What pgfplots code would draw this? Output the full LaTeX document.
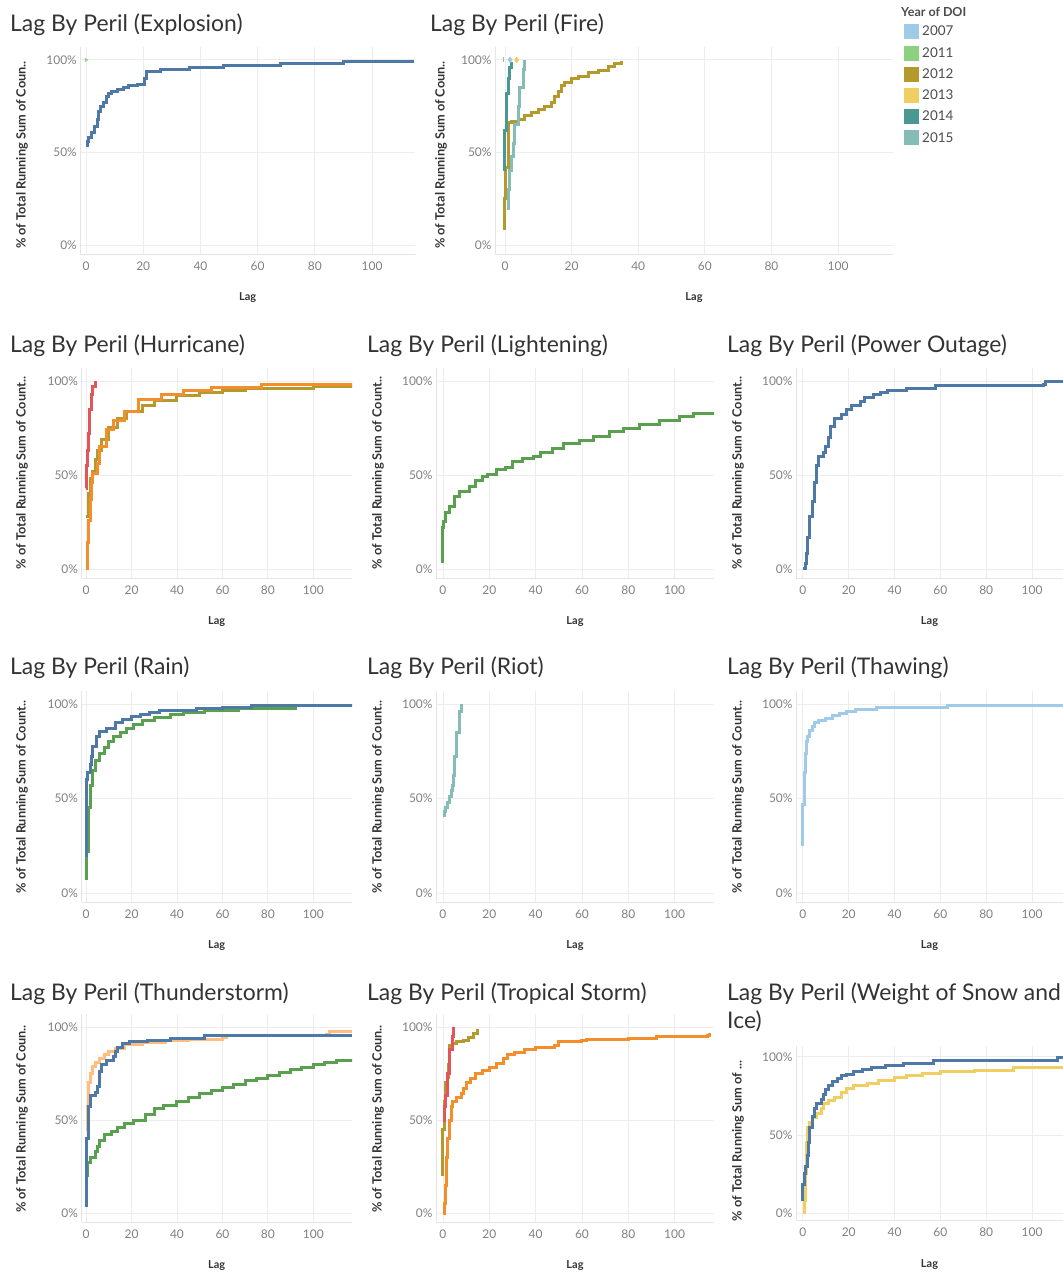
\documentclass[border=0pt]{standalone}
\usepackage{fontspec}
\setmainfont{Lato}
\usepackage{pgfplots}
\pgfplotsset{compat=1.18}
\definecolor{cBlue}{HTML}{4E79A7}
\definecolor{cOrange}{HTML}{F28E2B}
\definecolor{cRed}{HTML}{E15759}
\definecolor{cGreen}{HTML}{59A14F}
\definecolor{cOlive}{HTML}{B6992D}
\definecolor{cYellow}{HTML}{F1CE63}
\definecolor{cLBlue}{HTML}{A0CBE8}
\definecolor{cLOrange}{HTML}{FFBE7D}
\definecolor{cTeal}{HTML}{499894}
\definecolor{cLTeal}{HTML}{86BCB6}
\definecolor{cLGreen}{HTML}{8CD17D}
\definecolor{titlec}{HTML}{333333}
\pgfplotsset{
  lagaxis/.style={
    scale only axis,
    ymin=-5, ymax=107,
    ytick={0,50,100}, yticklabels={0\%,50\%,100\%},
    xtick={0,20,40,60,80,100},
    grid=major,
    grid style={draw=black!7, line width=0.9bp},
    axis x line*=bottom, axis y line*=left,
    axis line style={draw=black!10, line width=0.9bp, -},
    major tick length=0pt,
    tick label style={font=\fontsize{12}{12}\selectfont, text=black!50},
    xticklabel style={yshift=-4bp},
    /pgf/number format/assume math mode=true,
    xlabel={Lag},
    xlabel style={font=\bfseries\fontsize{11}{11}\selectfont, text=titlec, at={(rel axis cs:0.5,0)}, anchor=center, yshift=-43bp},
  },
  st/.style={const plot, line width=3bp, no markers, line join=miter},
}
\newcommand{\ttl}[3]{\node[anchor=base west, font=\fontsize{23}{23}\selectfont, text=titlec, inner sep=0pt] at (#1bp,#2bp) {#3};}
\newcommand{\ylab}[3]{\node[rotate=90, anchor=center, font=\bfseries\fontsize{12.8}{12.8}\selectfont, text=titlec, inner sep=0pt] at (#1bp,#2bp) {#3};}
\begin{document}
\begin{tikzpicture}
\useasboundingbox (0,0) rectangle (1063bp,1275bp);

% ---------------- Row 1 ----------------
\ttl{10}{1243}{Lag By Peril (Explosion)}
\ylab{22}{1120}{\% of Total Running Sum of Coun..}
\begin{axis}[lagaxis, at={(80.3bp,1020.7bp)}, anchor=south west, width=334.7bp, height=207.3bp, xmin=-2, xmax=115]
\addplot[st, color=cBlue] coordinates {(0,54) (0.5,56) (1,58) (2,61) (3,64) (4,68) (4.5,72) (5,75) (6,77) (7,80) (8,82) (9,83) (11,84) (13,85) (15,86) (18,87) (20,87) (20.5,90) (21,94) (26,95) (36,96) (48,97) (68,98) (90,99) (114,100)};
\addplot[only marks, mark=triangle*, mark size=1.8bp, color=cLGreen, mark options={rotate=-90}] coordinates {(0,100)};
\end{axis}

\ttl{430}{1243}{Lag By Peril (Fire)}
\ylab{441}{1120}{\% of Total Running Sum of Coun..}
\begin{axis}[lagaxis, at={(495bp,1020.7bp)}, anchor=south west, width=398bp, height=207.3bp, xmin=-3, xmax=116.5]
\addplot[st, color=cOlive] coordinates {(0,8) (0,25) (0.3,42) (1,58) (1,66) (2,67) (4,68) (6,70) (8,71.5) (10,73) (12,75) (14,77) (15,80) (16,83) (17,86) (18,88) (20,90) (22,91) (25,93) (28,94.5) (31,96.5) (33,98) (35,99.5)};
\addplot[st, color=cLTeal] coordinates {(0.5,20) (1,30) (1.5,40) (2,48) (2.5,55) (3,65) (4,75) (4.5,85) (5.5,95) (6,100)};
\addplot[st, color=cTeal] coordinates {(0,40) (0,62) (0.5,82) (1,90) (1.5,96) (2,99)};
\addplot[only marks, mark=|, mark size=2.5bp, color=cLGreen, line width=1bp] coordinates {(-0.5,100)};
\addplot[only marks, mark=diamond*, mark size=3bp, color=cLBlue] coordinates {(1.5,100)};
\addplot[only marks, mark=diamond*, mark size=3bp, color=cYellow] coordinates {(3.5,100)};
\end{axis}

% legend
\node[anchor=west, font=\bfseries\fontsize{12.5}{12.5}\selectfont, text=black!70, inner sep=0pt] at (901bp,1263bp) {Year of DOI};
\begin{axis}[at={(904bp,1252bp)}, anchor=north west, hide axis, scale only axis, width=5bp, height=5bp, xmin=0, xmax=1, ymin=0, ymax=1,
  legend style={at={(0,1)}, anchor=north west, draw=none, fill=none, font=\fontsize{13.5}{13.5}\selectfont, text=black!70, inner sep=0pt, row sep=4bp, nodes={inner sep=3bp}},
  legend cell align=left,
  legend image code/.code={\fill[#1, draw=none] (0bp,-7.5bp) rectangle (15bp,7.5bp);}]
\addlegendimage{fill=cLBlue}\addlegendentry{2007}
\addlegendimage{fill=cLGreen}\addlegendentry{2011}
\addlegendimage{fill=cOlive}\addlegendentry{2012}
\addlegendimage{fill=cYellow}\addlegendentry{2013}
\addlegendimage{fill=cTeal}\addlegendentry{2014}
\addlegendimage{fill=cLTeal}\addlegendentry{2015}
\end{axis}

% ---------------- Row 2 ----------------
\ttl{10}{922}{Lag By Peril (Hurricane)}
\ylab{22}{802}{\% of Total Running Sum of Count..}
\begin{axis}[lagaxis, at={(81.5bp,696.6bp)}, anchor=south west, width=270.5bp, height=210.6bp, xmin=-2, xmax=117]
\addplot[st, color=cOlive] coordinates {(0,28) (1,40) (2,48) (3,52) (4,58) (5,63) (7,69) (10,75) (14,80) (18,84) (25,87) (30,89.5) (40,92.5) (50,94) (60,95) (70,96) (100,97) (117,97.5)};
\addplot[st, color=cOrange] coordinates {(0,0) (0.5,14) (1,26) (2,37) (2.5,46) (3,51) (5,56) (6,65) (9,74) (12,79) (17,84) (23,90) (33,93) (43,95) (55,96.5) (77,98) (117,98.5)};
\addplot[st, color=cRed] coordinates {(0,43) (0.3,55) (0.5,63) (1,72) (1.5,85) (2.5,93) (3,97) (4,100)};
\end{axis}

\ttl{367}{922}{Lag By Peril (Lightening)}
\ylab{378}{802}{\% of Total Running Sum of Count..}
\begin{axis}[lagaxis, at={(436bp,696.6bp)}, anchor=south west, width=278bp, height=210.6bp, xmin=-3, xmax=117]
\addplot[st, color=cGreen] coordinates {(0,3) (0,22) (0.3,25) (1,30) (3,33) (5,38.5) (7,41) (11.5,44) (14,47) (17,49) (19.4,50) (23,52.7) (27,54) (30,57) (34.5,59) (39,60) (42,62) (47.5,64) (52,67) (59,68.5) (65,70.7) (72,73) (78,74.7) (85,77) (93.5,79) (102,81) (108,82.7) (117,83.6)};
\end{axis}

\ttl{727}{922}{Lag By Peril (Power Outage)}
\ylab{738}{802}{\% of Total Running Sum of Count..}
\begin{axis}[lagaxis, at={(796bp,696.6bp)}, anchor=south west, width=267bp, height=210.6bp, xmin=-3, xmax=113.5]
\addplot[st, color=cBlue] coordinates {(0,0) (1,3) (1.5,8) (2,17) (3,28) (4,36) (5,46) (6,55) (7,60) (9,62) (10,65) (11,70) (12,76) (14,80) (17,82) (19,85) (21,87) (25,89) (27,91) (31,93) (34,94) (37,95) (45,96) (58,97.5) (105,98) (106,99.5) (113.5,99.5)};
\end{axis}

% ---------------- Row 3 ----------------
\ttl{10}{600}{Lag By Peril (Rain)}
\ylab{22}{478}{\% of Total Running Sum of Count..}
\begin{axis}[lagaxis, at={(81.5bp,372.5bp)}, anchor=south west, width=270.5bp, height=211.7bp, xmin=-2, xmax=117]
\addplot[st, color=cGreen] coordinates {(0,7) (0,22) (1,45) (2,57) (3,65) (4,70) (6,74) (8,77) (10,80) (12,83) (15,85) (18,87) (21,89) (25,91.5) (30,93) (37,94.5) (43,95.5) (52,96.5) (67,97.5) (92,98.5)};
\addplot[st, color=cBlue] coordinates {(0,19) (0,60) (0.5,64) (2,68) (2.5,72) (3,77.6) (4.7,83) (6,85.5) (9,87) (13,90) (16,91.7) (20,93.5) (24,94.7) (28,95.6) (32.5,96.5) (48.7,97.4) (60,98.4) (73,99.3) (117,99.6)};
\end{axis}

\ttl{367}{600}{Lag By Peril (Riot)}
\ylab{378}{478}{\% of Total Running Sum of Count..}
\begin{axis}[lagaxis, at={(436bp,372.5bp)}, anchor=south west, width=278bp, height=211.7bp, xmin=-3, xmax=117]
\addplot[st, color=cLTeal] coordinates {(0,41) (0.5,43) (1,45) (2,48) (3,51) (3.5,54) (4,57) (4.5,62) (5,72) (6,85) (7,96) (8,99) (8,100)};
\end{axis}

\ttl{727}{600}{Lag By Peril (Thawing)}
\ylab{738}{478}{\% of Total Running Sum of Count..}
\begin{axis}[lagaxis, at={(796bp,372.5bp)}, anchor=south west, width=267bp, height=211.7bp, xmin=-3, xmax=113.5]
\addplot[st, color=cLBlue] coordinates {(0,25) (0,47) (0.5,64) (1,74) (1.5,80) (2,83) (3,86) (4,88) (5,90) (7,91.5) (10,92.5) (13,94) (16,95) (19,96) (23,97) (32,98) (63,99) (113.5,99.5)};
\end{axis}

% ---------------- Row 4 ----------------
\ttl{10}{274}{Lag By Peril (Thunderstorm)}
\ylab{22}{156}{\% of Total Running Sum of Coun..}
\begin{axis}[lagaxis, at={(81.5bp,52.7bp)}, anchor=south west, width=270.5bp, height=208.3bp, xmin=-2, xmax=117]
\addplot[st, color=cGreen] coordinates {(0,20) (0.5,27) (2,30) (4,33) (5,36) (6,39) (8,42) (11,44) (14,46) (17,48) (21,50) (26,53) (30,56) (34,58) (40,60) (45,62) (50,64) (55,66) (60,67.5) (65,69) (70,71) (75,72.5) (80,74) (85,75.5) (90,77) (95,78.5) (100,80) (105,81) (110,82) (117,82.5)};
\addplot[st, color=cLOrange] coordinates {(0,45) (0.5,57) (1,70) (2,75) (3,79) (4,81) (6,83) (8,85) (10,87) (13,88.5) (17,90.5) (25,91.5) (35,92.5) (45,93.5) (60,94.5) (62,95.5) (106,96) (107,97.8) (117,97.8)};
\addplot[st, color=cBlue] coordinates {(0,3) (0,40) (1,57) (2,63) (4,65) (5,68) (6,76) (7,80) (9,82) (12,84) (13,87) (14,89) (16,91) (19,92) (27,93) (37,94) (52,95.7) (117,95.7)};
\end{axis}

\ttl{367}{274}{Lag By Peril (Tropical Storm)}
\ylab{378}{156}{\% of Total Running Sum of Coun..}
\begin{axis}[lagaxis, at={(436bp,52.7bp)}, anchor=south west, width=278bp, height=208.3bp, xmin=-3, xmax=117]
\addplot[st, color=cOrange] coordinates {(0,0) (0.5,5) (1,15) (1.5,30) (2,40) (3,50) (3.5,57) (4,60) (6,62) (8,64) (9,67) (10,70) (12,72.5) (14,75) (17,76.5) (20,78) (23,80.5) (26,83) (28,85) (31,86.5) (35,88) (40,89) (48,90) (50,92) (60,92.5) (62,93.5) (80,94) (92,95) (114,95.5) (115,97)};
\addplot[st, color=cOlive] coordinates {(0,20) (0,45) (0.5,60) (1,70) (2,73) (2.5,80) (3,90) (4,91) (6,92) (9,93) (11,94.5) (13,96.5) (15,99)};
\addplot[st, color=cRed] coordinates {(0,50) (0.5,57) (1,63) (2,75) (3,88) (4,95) (4.5,100)};
\end{axis}

\ttl{727}{274}{Lag By Peril (Weight of Snow and}
\ttl{727}{246}{Ice)}
\ylab{738}{134}{\% of Total Running Sum of ...}
\begin{axis}[lagaxis, at={(796bp,54.2bp)}, anchor=south west, width=267bp, height=174.8bp, xmin=-3, xmax=113.5, xlabel style={yshift=-1bp}]
\addplot[st, color=cYellow] coordinates {(0,0) (0.5,8) (1,25) (1.5,45) (2,55) (3,58) (4,61) (6,64) (8,67) (9,70) (11,72) (14,74) (17,77) (19,80) (22,81.5) (28,83) (33,85) (40,86.5) (45,88) (52,89.5) (60,90.5) (75,91.5) (92,93) (113.5,93.5)};
\addplot[st, color=cBlue] coordinates {(0,8) (0,18) (0.5,25) (1,30) (2,37) (2.5,45) (3,55) (4,62) (5,67) (6,70) (8,73) (9,76) (10,79) (11,82) (13,84) (15,86) (17,88) (19,89) (22,90.5) (26,92) (30,93.5) (36,94.5) (44,96) (57,97.5) (110,98) (111,99.5) (113.5,99.5)};
\end{axis}
\end{tikzpicture}
\end{document}
